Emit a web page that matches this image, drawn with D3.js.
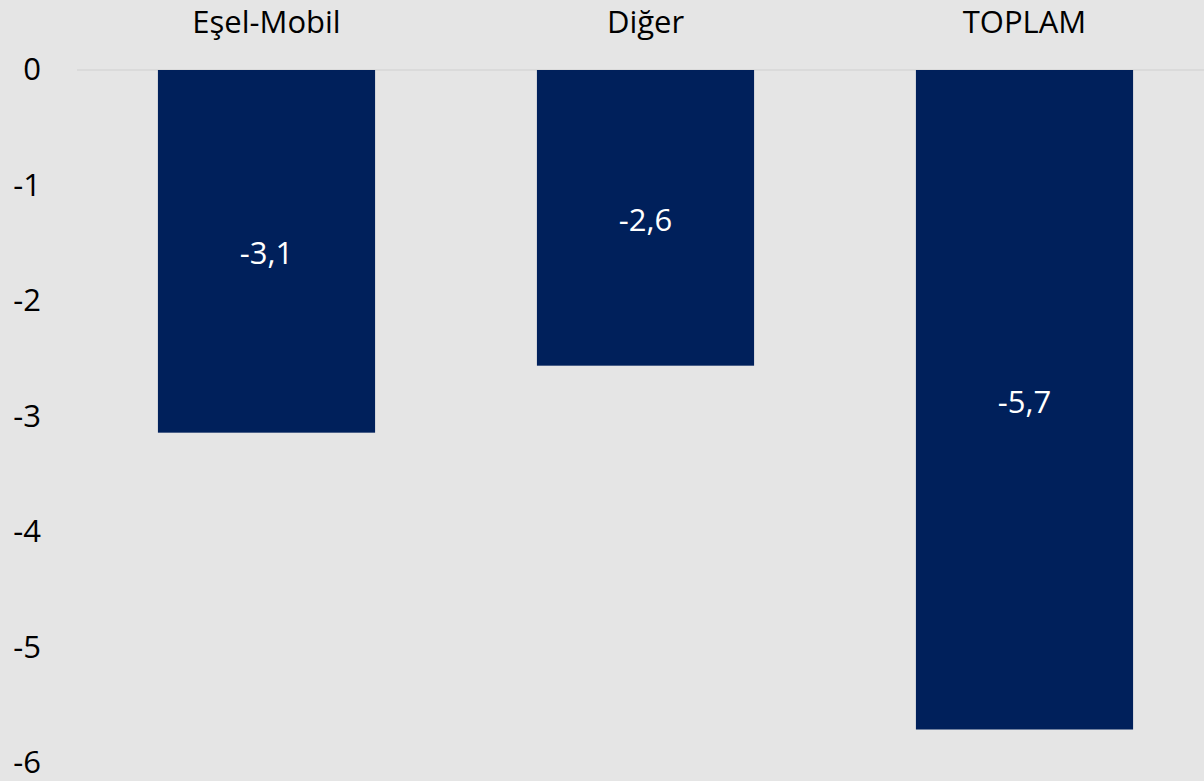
<!DOCTYPE html>
<html><head><meta charset="utf-8">
<script src="https://cdn.jsdelivr.net/npm/d3@7"></script>
<style>
html,body{margin:0;padding:0;background:#e5e5e5;}
svg{display:block;}
text{font-family:"Open Sans","Noto Sans",sans-serif;}
</style></head>
<body>
<svg id="chart" width="1204" height="781"></svg>
<script>
const categories = ["Eşel-Mobil", "Diğer", "TOPLAM"];
const values = [-3.14, -2.56, -5.71];
const tickValues = [0, -1, -2, -3, -4, -5, -6];

const W = 1204, H = 781;
const FS = 31;
const svg = d3.select("#chart");
svg.append("rect").attr("width", W).attr("height", H).attr("fill", "#e5e5e5");

const x = d3.scaleBand().domain(categories).range([77, 1214]).paddingInner(0.427).paddingOuter(0.2135);
const y = d3.scaleLinear().domain([0, -6]).range([70, 763]);

// zero line
svg.append("line").attr("x1", 77).attr("x2", W).attr("y1", y(0)).attr("y2", y(0))
  .attr("stroke", "#d6d6d6").attr("stroke-width", 1.5);

// y axis labels
const yAxis = d3.axisLeft(y).tickValues(tickValues).tickSize(0).tickPadding(0).tickFormat(d => d3.format("d")(d).replace("−", "-"));
const ya = svg.append("g").attr("transform", "translate(41,0)").call(yAxis);
ya.select(".domain").remove();
ya.selectAll("text").attr("font-size", FS).attr("fill", "#000").attr("font-family", "'Open Sans','Noto Sans',sans-serif");

// category labels on top
const xAxis = d3.axisTop(x).tickSize(0).tickPadding(0);
const xa = svg.append("g").attr("transform", "translate(0,33)").call(xAxis);
xa.select(".domain").remove();
xa.selectAll("text").attr("font-size", FS).attr("fill", "#000").attr("font-family", "'Open Sans','Noto Sans',sans-serif");

// bars
svg.selectAll("rect.bar").data(values).join("rect").attr("class", "bar")
  .attr("x", (d, i) => x(categories[i]))
  .attr("width", x.bandwidth())
  .attr("y", d => y(Math.max(0, d)))
  .attr("height", d => Math.abs(y(d) - y(0)))
  .attr("fill", "#00205b");

// value labels
const fmt = d => d3.format(".1f")(d).replace("−", "-").replace(".", ",");
svg.selectAll("text.val").data(values).join("text").attr("class", "val")
  .attr("x", (d, i) => x(categories[i]) + x.bandwidth() / 2)
  .attr("y", d => (y(0) + y(d)) / 2)
  .attr("dy", "0.42em")
  .attr("text-anchor", "middle")
  .attr("font-size", FS)
  .attr("fill", "#fff")
  .text(fmt);
</script>
</body></html>
